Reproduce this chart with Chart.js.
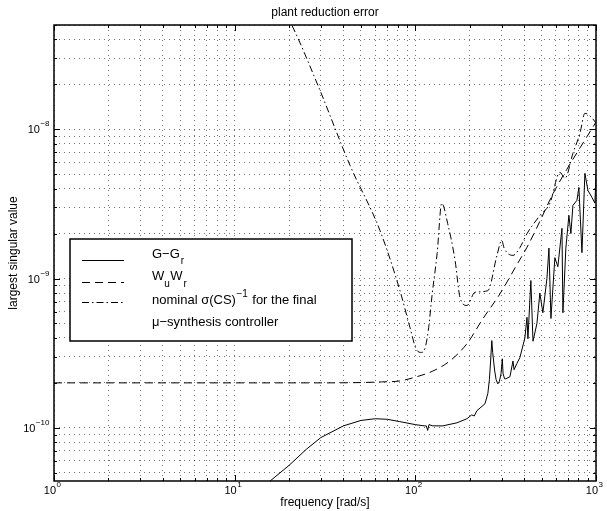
<!DOCTYPE html>
<html>
<head>
<meta charset="utf-8">
<script src="https://cdn.jsdelivr.net/npm/chart.js@4.4.0/dist/chart.umd.min.js"></script>
<style>
  html, body { margin: 0; padding: 0; background: #fff; }
  canvas { display: block; }
</style>
</head>
<body>
<canvas id="grafico" width="607" height="511"></canvas>
<script>
// G - Gr (línea continua)
const gFreq = [15, 20, 25, 30, 40, 50, 60, 70, 82, 100, 112, 115, 117, 119, 125, 142, 170, 193, 205, 212, 219, 243, 252, 257, 261, 265, 268, 275, 280, 286, 292, 298, 303, 306, 312, 317, 334, 347, 352, 365, 379, 404, 415, 420, 436, 448, 471, 489, 508, 535, 549, 563, 592, 615, 648, 656, 681, 708, 726, 745, 784, 804, 836, 868, 902, 949, 986, 1000];
const gVal = [4.2e-11, 5.6e-11, 7.2e-11, 8.6e-11, 1.03e-10, 1.12e-10, 1.15e-10, 1.14e-10, 1.10e-10, 1.05e-10, 1.03e-10, 1.03e-10, 9.6e-11, 1.05e-10, 1.03e-10, 1.03e-10, 1.08e-10, 1.15e-10, 1.22e-10, 1.2e-10, 1.3e-10, 1.45e-10, 1.7e-10, 2.1e-10, 2.8e-10, 3.84e-10, 3.2e-10, 2.4e-10, 2.1e-10, 1.97e-10, 2.05e-10, 2.3e-10, 2.9e-10, 2.3e-10, 2.13e-10, 2.13e-10, 2.2e-10, 2.8e-10, 2.45e-10, 2.7e-10, 2.95e-10, 4.0e-10, 5.5e-10, 3.95e-10, 9.7e-10, 3.8e-10, 5.0e-10, 8.0e-10, 5.9e-10, 1.0e-9, 1.6e-9, 5.4e-10, 1.38e-9, 1.2e-9, 2.17e-9, 5.9e-10, 1.6e-9, 2.65e-9, 2.0e-9, 3.09e-9, 3.34e-9, 4.08e-9, 1.49e-9, 5.07e-9, 3.9e-9, 3.5e-9, 3.2e-9, 4.9e-9];

// Wu Wr (discontinua)
const wFreq = [1, 10, 30, 50, 65, 82, 102, 125, 155, 193, 237, 294, 365, 415, 490, 578, 690, 815, 925, 1000];
const wVal = [2.0e-10, 2.0e-10, 2.0e-10, 2.01e-10, 2.03e-10, 2.06e-10, 2.2e-10, 2.4e-10, 2.8e-10, 3.66e-10, 5.4e-10, 7.9e-10, 1.24e-9, 1.62e-9, 2.43e-9, 3.7e-9, 5.4e-9, 7.5e-9, 9.6e-9, 1.12e-8];

// sigma(CS)^-1 nominal (raya-punto)
const csFreq = [19, 20.7, 28.9, 43.5, 63.7, 82.2, 93.4, 102, 108, 113, 118, 124, 132, 140, 151, 166, 177, 193, 214, 252, 283, 301, 310, 347, 379, 415, 490, 556, 631, 674, 745, 815, 868, 946, 1000];
const csVal = [6.0e-8, 5.0e-8, 1.97e-8, 5.73e-9, 2.1e-9, 8.3e-10, 4.7e-10, 3.3e-10, 3.2e-10, 3.4e-10, 4.5e-10, 7.9e-10, 1.47e-9, 3.2e-9, 2.34e-9, 1.32e-9, 7.4e-10, 6.6e-10, 8.1e-10, 8.3e-10, 1.43e-9, 1.8e-9, 1.6e-9, 1.43e-9, 1.61e-9, 2.0e-9, 2.65e-9, 3.2e-9, 5.15e-9, 4.7e-9, 6.9e-9, 9.4e-9, 1.28e-8, 1.2e-8, 1.1e-8];

const xTicks = [1, 2, 3, 4, 5, 6, 7, 8, 9, 10, 20, 30, 40, 50, 60, 70, 80, 90, 100, 200, 300, 400, 500, 600, 700, 800, 900, 1000];
const yTicks = [5e-11, 6e-11, 7e-11, 8e-11, 9e-11, 1e-10, 2e-10, 3e-10, 4e-10, 5e-10, 6e-10, 7e-10, 8e-10, 9e-10, 1e-9, 2e-9, 3e-9, 4e-9, 5e-9, 6e-9, 7e-9, 8e-9, 9e-9, 1e-8, 2e-8, 3e-8, 4e-8, 5e-8];
const xMajors = [1, 10, 100, 1000];
const xExps = ['0', '1', '2', '3'];
const yMajors = [1e-10, 1e-9, 1e-8];
const yExps = ['\u221210', '\u22129', '\u22128'];

const fuente = '"Liberation Sans", Arial, Helvetica, sans-serif';
const guion = [8, 5];
const rayaPunto = [7, 3, 1.5, 3];

function puntos(fs, vs) { return fs.map((f, i) => ({ x: f, y: vs[i] })); }

function potencia(ctx, exp, x, y, alinear) {
  // "10" con exponente; x = borde derecho (eje y) o borde derecho del "10" (eje x)
  ctx.font = '11px ' + fuente;
  const wBase = ctx.measureText('10').width;
  ctx.font = '8px ' + fuente;
  const wExp = ctx.measureText(exp).width;
  let xb = alinear === 'derecha' ? x - wExp - wBase : x - wBase;
  ctx.font = '11px ' + fuente;
  ctx.textAlign = 'left';
  ctx.fillText('10', xb, y);
  ctx.font = '8px ' + fuente;
  ctx.fillText(exp, xb + wBase + 0.5, y - 7);
}

const marco = {
  id: 'marco',
  afterDraw(chart) {
    const { ctx, chartArea: a, scales: { x, y } } = chart;
    ctx.save();
    ctx.setLineDash([]);
    ctx.strokeStyle = '#000';
    ctx.fillStyle = '#000';
    ctx.lineWidth = 1;
    const linea = (x1, y1, x2, y2) => { ctx.beginPath(); ctx.moveTo(x1, y1); ctx.lineTo(x2, y2); ctx.stroke(); };

    xTicks.forEach(v => {
      const px = Math.round(x.getPixelForValue(v)) + 0.5;
      const l = xMajors.includes(v) ? 6 : 3;
      linea(px, a.bottom, px, a.bottom - l);
      linea(px, a.top, px, a.top + l);
    });
    yTicks.forEach(v => {
      const py = Math.round(y.getPixelForValue(v)) + 0.5;
      const l = yMajors.some(m => Math.abs(m - v) < m * 1e-6) ? 6 : 3;
      linea(a.left, py, a.left + l, py);
      linea(a.right, py, a.right - l, py);
    });

    ctx.lineWidth = 1.5;
    ctx.strokeRect(a.left, a.top, a.right - a.left, a.bottom - a.top);

    // etiquetas de ejes
    ctx.textBaseline = 'alphabetic';
    xMajors.forEach((v, i) => potencia(ctx, xExps[i], x.getPixelForValue(v) + 2, a.bottom + 13, 'x'));
    yMajors.forEach((v, i) => potencia(ctx, yExps[i], a.left - 5, y.getPixelForValue(v) + 4, 'derecha'));

    ctx.font = '12px ' + fuente;
    ctx.textAlign = 'center';
    ctx.fillText('plant reduction error', (a.left + a.right) / 2, 16);
    ctx.fillText('frequency [rad/s]', (a.left + a.right) / 2, 506);
    ctx.save();
    ctx.translate(17, (a.top + a.bottom) / 2);
    ctx.rotate(-Math.PI / 2);
    ctx.fillText('largest singular value', 0, 0);
    ctx.restore();

    // leyenda
    const lx = 70, ly = 239, lw = 282, lh = 102;
    ctx.fillStyle = '#fff';
    ctx.fillRect(lx, ly, lw, lh);
    ctx.lineWidth = 1.5;
    ctx.strokeRect(lx, ly, lw, lh);
    ctx.fillStyle = '#000';
    ctx.lineWidth = 1;
    [[260, []], [282, guion], [302, rayaPunto]].forEach(([yy, d]) => {
      ctx.setLineDash(d);
      linea(82, yy + 0.5, 124, yy + 0.5);
    });
    ctx.setLineDash([]);
    ctx.textAlign = 'left';
    const tx = 152;
    ctx.font = '13px ' + fuente;
    ctx.fillText('G\u2212G', tx, 258);
    let w = ctx.measureText('G\u2212G').width;
    ctx.font = '10px ' + fuente;
    ctx.fillText('r', tx + w + 1, 264);
    ctx.font = '13px ' + fuente;
    ctx.fillText('W', tx, 280);
    w = ctx.measureText('W').width;
    ctx.font = '10px ' + fuente;
    ctx.fillText('u', tx + w, 287);
    ctx.font = '13px ' + fuente;
    ctx.fillText('W', tx + w + 6, 280);
    ctx.font = '10px ' + fuente;
    ctx.fillText('r', tx + 2 * w + 7, 287);
    ctx.font = '13px ' + fuente;
    const p1 = 'nominal \u03c3(CS)';
    ctx.fillText(p1, tx, 304);
    w = ctx.measureText(p1).width;
    ctx.font = '10px ' + fuente;
    ctx.fillText('\u22121', tx + w + 0.5, 297);
    const we = ctx.measureText('\u22121').width;
    ctx.font = '13px ' + fuente;
    ctx.fillText('for the final', tx + w + we + 5, 304);
    ctx.fillText('\u03bc\u2212synthesis controller', tx, 326);
    ctx.restore();
  }
};

const ejeBase = {
  type: 'logarithmic',
  ticks: { display: false },
  grid: { color: 'rgba(0,0,0,0.55)', lineWidth: 1, drawTicks: false },
  border: { display: false, dash: [1, 4] }
};

new Chart(document.getElementById('grafico'), {
  type: 'line',
  data: {
    datasets: [
      { label: 'G-Gr', data: puntos(gFreq, gVal), borderColor: '#000', borderWidth: 1, pointRadius: 0, tension: 0 },
      { label: 'WuWr', data: puntos(wFreq, wVal), borderColor: '#000', borderWidth: 1, borderDash: guion, pointRadius: 0, cubicInterpolationMode: 'monotone' },
      { label: 'sigma(CS)^-1', data: puntos(csFreq, csVal), borderColor: '#000', borderWidth: 1, borderDash: rayaPunto, pointRadius: 0, cubicInterpolationMode: 'monotone' }
    ]
  },
  options: {
    responsive: false,
    animation: false,
    layout: { padding: { left: 54, top: 25, right: 11, bottom: 30 } },
    plugins: { legend: { display: false }, title: { display: false }, tooltip: { enabled: false } },
    scales: {
      x: { ...ejeBase, min: 1, max: 1000, afterBuildTicks: s => { s.ticks = xTicks.map(v => ({ value: v })); } },
      y: { ...ejeBase, min: 4.4e-11, max: 5e-8, afterBuildTicks: s => { s.ticks = yTicks.map(v => ({ value: v })); } }
    }
  },
  plugins: [marco]
});
</script>
</body>
</html>
